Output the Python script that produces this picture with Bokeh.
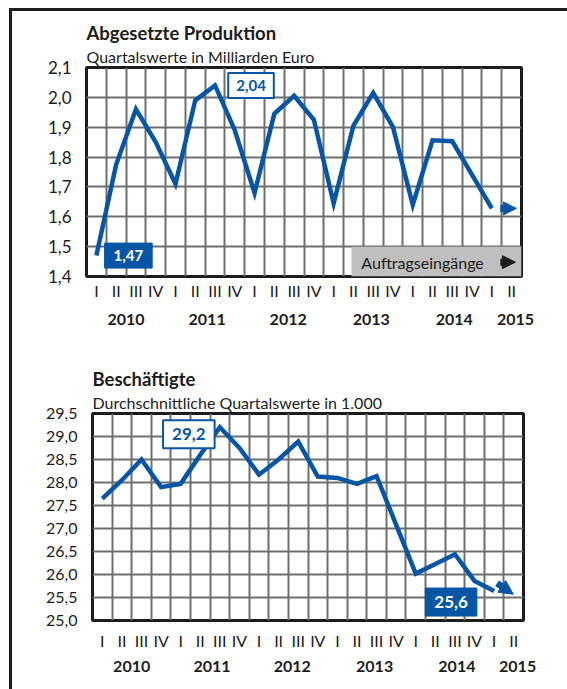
from bokeh.plotting import figure
from bokeh.models import (FixedTicker, LinearAxis, Range1d, Label, Arrow, NormalHead,
                          BoxAnnotation, Title)
from bokeh.layouts import column
from bokeh.embed import file_html
from bokeh.resources import INLINE

# ---------------- data ----------------
quarter_labels = ["I", "II", "III", "IV"] * 5 + ["I", "II"]
quarter_pos = list(range(len(quarter_labels)))
year_labels = ["2010", "2011", "2012", "2013", "2014", "2015"]
year_pos = [1.5, 5.6, 9.7, 13.9, 18.1, 21.2]

produktion = [1.47, 1.775, 1.96, 1.85, 1.71, 1.99, 2.04, 1.89, 1.68, 1.945, 2.005,
              1.925, 1.645, 1.905, 2.015, 1.90, 1.64, 1.856, 1.853, 1.74, 1.628]
beschaeftigte = [27.65, 28.05, 28.5, 27.9, 27.97, 28.6, 29.2, 28.75, 28.17, 28.5, 28.89,
                 28.13, 28.1, 27.97, 28.14, 27.08, 26.02, 26.23, 26.44, 25.86, 25.64]

prod_ticks = [1.4, 1.5, 1.6, 1.7, 1.8, 1.9, 2.0, 2.1]
prod_tick_labels = ["1,4", "1,5", "1,6", "1,7", "1,8", "1,9", "2,0", "2,1"]
emp_ticks = [25.0, 25.5, 26.0, 26.5, 27.0, 27.5, 28.0, 28.5, 29.0, 29.5]
emp_tick_labels = ["25,0", "25,5", "26,0", "26,5", "27,0", "27,5", "28,0", "28,5", "29,0", "29,5"]

BLUE = "#0656a5"
GRID = "#6e6e6e"
DARK = "#1c1c1c"
FONT = "Lato"


def fmt(v, nd):
    return f"{v:.{nd}f}".replace(".", ",")


def plain_axis(ax, standoff, size, style="normal"):
    ax.axis_line_color = None
    ax.major_tick_line_color = None
    ax.minor_tick_line_color = None
    ax.major_tick_out = 0
    ax.major_tick_in = 0
    ax.minor_tick_out = 0
    ax.minor_tick_in = 0
    ax.major_label_standoff = standoff
    ax.major_label_text_font = FONT
    ax.major_label_text_font_size = size
    ax.major_label_text_font_style = style
    ax.major_label_text_color = DARK


def make_chart(values, yticks, ylabels, title, subtitle, width, height,
               left, right, top, bottom, q_standoff, y_standoff, ylab_size):
    p = figure(width=width, height=height,
               x_range=Range1d(-0.5, 21.5), y_range=Range1d(yticks[0], yticks[-1]),
               output_backend="svg", toolbar_location=None,
               min_border_left=left, min_border_right=right,
               min_border_top=top, min_border_bottom=bottom)
    p.background_fill_color = "white"
    p.border_fill_color = "white"
    p.outline_line_color = DARK
    p.outline_line_width = 3

    # titles (main title on top, subtitle next to the frame)
    p.title.text = title
    p.title.align = "left"
    p.title.text_font = FONT
    p.title.text_font_size = "18.5px"
    p.title.text_font_style = "bold"
    p.title.text_color = DARK
    p.title.standoff = 0
    p.add_layout(Title(text=subtitle, align="left", text_font=FONT, text_font_size="16px",
                       text_font_style="normal", text_color=DARK, standoff=3), "above")

    # quarter axis
    xa = p.xaxis[0]
    xa.ticker = FixedTicker(ticks=quarter_pos)
    xa.major_label_overrides = {k: q for k, q in zip(quarter_pos, quarter_labels)}
    plain_axis(xa, q_standoff, "16px")

    # year axis
    ya2 = LinearAxis(ticker=FixedTicker(ticks=year_pos),
                     major_label_overrides={k: y for k, y in zip(year_pos, year_labels)})
    plain_axis(ya2, y_standoff, "16px", "bold")
    p.add_layout(ya2, "below")

    # y axis
    ya = p.yaxis[0]
    ya.ticker = FixedTicker(ticks=yticks)
    ya.major_label_overrides = {k: s for k, s in zip(yticks, ylabels)}
    plain_axis(ya, 15, ylab_size)

    # grid
    p.xgrid.ticker = FixedTicker(ticks=[k + 0.5 for k in quarter_pos[:-1]])
    p.ygrid.ticker = FixedTicker(ticks=yticks)
    for g in (p.xgrid, p.ygrid):
        g.grid_line_color = GRID
        g.grid_line_width = 2

    p.line(x=list(range(len(values))), y=values, line_color=BLUE, line_width=4.5,
           line_join="miter")
    return p


# ---------------- top chart ----------------
p1 = make_chart(produktion, prod_ticks, prod_tick_labels,
                "Abgesetzte Produktion", "Quartalswerte in Milliarden Euro",
                555, 334, 74, 46, 56, 69, 4, 11, "17px")

i_max = produktion.index(max(produktion))
p1.add_layout(Label(x=i_max, y=produktion[i_max], x_offset=36, y_offset=0,
                    text=fmt(produktion[i_max], 2), text_align="center", text_baseline="middle",
                    text_font=FONT, text_font_size="15px", text_font_style="bold",
                    text_color=BLUE, background_fill_color="white",
                    border_line_color=BLUE, border_line_width=2,
                    padding=dict(left=8, right=8, top=7, bottom=7)))
p1.add_layout(Label(x=0, y=produktion[0], x_offset=32, y_offset=0,
                    text=fmt(produktion[0], 2), text_align="center", text_baseline="middle",
                    text_font=FONT, text_font_size="15px", text_font_style="bold",
                    text_color="white", background_fill_color=BLUE,
                    border_line_color=BLUE, border_line_width=1,
                    padding=dict(left=9, right=9, top=7, bottom=7)))

n = len(produktion) - 1
p1.add_layout(Arrow(x_start=n + 0.43, y_start=produktion[n], x_end=n + 1.24, y_end=produktion[n],
                    line_color=BLUE, line_width=7,
                    end=NormalHead(size=13, fill_color=BLUE, line_color=BLUE, line_width=1)))

p1.add_layout(BoxAnnotation(left=12.9, top=1.5, fill_color="#bfbfbf", fill_alpha=1.0,
                            line_color=None))
p1.add_layout(Label(x=13.4, y=1.448, text="Auftragseingänge", text_align="left",
                    text_baseline="middle", text_font=FONT, text_font_size="16px",
                    text_color=DARK))
p1.add_layout(Arrow(x_start=n + 0.43, y_start=1.448, x_end=n + 1.19, y_end=1.448,
                    line_color=DARK, line_width=7,
                    end=NormalHead(size=13, fill_color=DARK, line_color=DARK, line_width=1)))

# ---------------- bottom chart ----------------
p2 = make_chart(beschaeftigte, emp_ticks, emp_tick_labels,
                "Beschäftigte", "Durchschnittliche Quartalswerte in 1.000",
                555, 344, 80, 44, 68, 69, 10, 8, "16px")

j_max = beschaeftigte.index(max(beschaeftigte))
p2.add_layout(Label(x=j_max, y=beschaeftigte[j_max], x_offset=-31, y_offset=-7,
                    text=fmt(beschaeftigte[j_max], 1), text_align="center", text_baseline="middle",
                    text_font=FONT, text_font_size="17px", text_font_style="bold",
                    text_color=BLUE, background_fill_color="white",
                    border_line_color=BLUE, border_line_width=2,
                    padding=dict(left=9, right=9, top=8, bottom=8)))
m = len(beschaeftigte) - 1
p2.add_layout(Label(x=m, y=beschaeftigte[m], x_offset=-43, y_offset=-11,
                    text=fmt(beschaeftigte[m], 1), text_align="center", text_baseline="middle",
                    text_font=FONT, text_font_size="17px", text_font_style="bold",
                    text_color="white", background_fill_color=BLUE,
                    border_line_color=BLUE, border_line_width=1,
                    padding=dict(left=9, right=9, top=8, bottom=8)))
p2.add_layout(Arrow(x_start=m + 0.15, y_start=beschaeftigte[m] + 0.17,
                    x_end=m + 0.98, y_end=beschaeftigte[m] - 0.07,
                    line_color=BLUE, line_width=6.5,
                    end=NormalHead(size=14, fill_color=BLUE, line_color=BLUE, line_width=1)))

# wrap each chart separately so their frames are not aligned to each other
layout = column(column(p1), column(p2), spacing=0, margin=(8, 0, 0, 9),
                styles={"border-left": f"3px solid {DARK}", "border-top": f"3px solid {DARK}"})

open("out.html", "w").write(file_html(layout, INLINE))
